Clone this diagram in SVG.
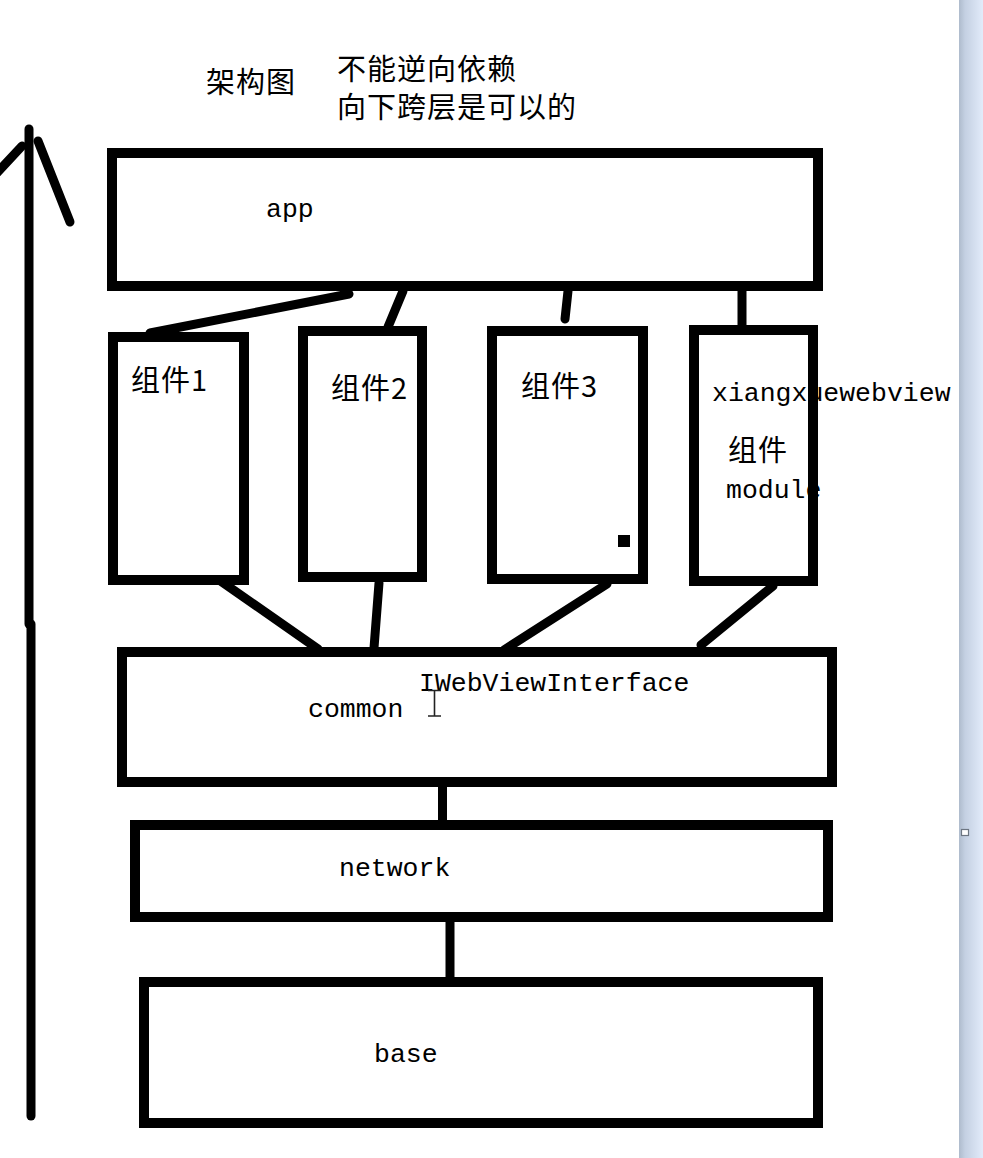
<svg xmlns="http://www.w3.org/2000/svg" width="983" height="1158" viewBox="0 0 983 1158">
  <defs>
    <linearGradient id="strip" x1="0" y1="0" x2="1" y2="0">
      <stop offset="0" stop-color="#aebbcc"/>
      <stop offset="0.25" stop-color="#c4d0e2"/>
      <stop offset="1" stop-color="#e2ebfa"/>
    </linearGradient>
  </defs>
  <style>
    .box { fill: #ffffff; stroke: #000000; stroke-width: 10; }
    .conn { stroke: #000000; stroke-width: 9; stroke-linecap: round; fill: none; }
    .cjk { font-family: "Noto Sans CJK SC", "Noto Sans", sans-serif; font-size: 29px; letter-spacing: 1px; fill: #000000; }
    .mono { font-family: "Liberation Mono", "DejaVu Sans Mono", monospace; font-size: 26.5px; fill: #000000; }
    .arrow { stroke: #000000; stroke-width: 9; stroke-linecap: round; fill: none; }
  </style>
  <rect x="0" y="0" width="983" height="1158" fill="#ffffff"/>
  <g id="window-edge">
    <rect x="959" y="0" width="24" height="1158" fill="url(#strip)"/>
    <rect x="961.5" y="829.5" width="7" height="6" fill="#ffffff" stroke="#6d7682" stroke-width="1.2"/>
  </g>

  <g id="title">
    <text class="cjk" x="206" y="93">架构图</text>
    <text class="cjk" x="337" y="80">不能逆向依赖</text>
    <text class="cjk" x="337" y="118">向下跨层是可以的</text>
  </g>

  <g id="arrow">
    <line class="arrow" x1="29" y1="129" x2="29" y2="624"/>
    <line class="arrow" x1="31" y1="624" x2="31" y2="1116"/>
    <line class="arrow" x1="22" y1="146" x2="-6" y2="176"/>
    <line class="arrow" x1="38" y1="141" x2="70" y2="222"/>
  </g>

  <g id="connectors">
    <line class="conn" x1="349" y1="294" x2="150" y2="333"/>
    <line class="conn" x1="403" y1="291" x2="388" y2="327"/>
    <line class="conn" x1="568" y1="291" x2="565" y2="319"/>
    <line class="conn" x1="742" y1="282" x2="742" y2="327" stroke-linecap="butt"/>
    <line class="conn" x1="212" y1="575" x2="318" y2="649" stroke-width="10"/>
    <line class="conn" x1="379" y1="583" x2="373" y2="661" stroke-width="10"/>
    <line class="conn" x1="607" y1="584" x2="504" y2="650" stroke-width="10"/>
    <line class="conn" x1="773" y1="586" x2="701" y2="645" stroke-width="10"/>
    <line class="conn" x1="442.5" y1="785" x2="442.5" y2="822" stroke-linecap="butt"/>
    <line class="conn" x1="450" y1="918" x2="450" y2="980" stroke-width="10" stroke-linecap="butt"/>
  </g>

  <g id="app">
    <rect class="box" x="112" y="153" width="706" height="133"/>
    <text class="mono" x="266" y="217">app</text>
  </g>

  <g id="comp1">
    <rect class="box" x="113" y="337" width="131" height="243"/>
    <text class="cjk" x="131" y="391">组件1</text>
  </g>

  <g id="comp2">
    <rect class="box" x="303" y="331" width="119" height="246"/>
    <text class="cjk" x="331" y="399">组件2</text>
  </g>

  <g id="comp3">
    <rect class="box" x="492" y="331" width="151" height="248"/>
    <text class="cjk" x="521" y="397">组件3</text>
    <rect x="618" y="535" width="12" height="12" fill="#000000"/>
  </g>

  <g id="xiangxuewebview">
    <rect x="694" y="330" width="119" height="251" fill="#ffffff"/>
    <text class="mono" x="712" y="401">xiangxuewebview</text>
    <text class="cjk" x="728" y="461">组件</text>
    <text class="mono" x="726" y="498">module</text>
    <rect x="694" y="330" width="119" height="251" fill="none" stroke="#000000" stroke-width="10"/>
  </g>

  <g id="common">
    <rect class="box" x="122" y="652" width="710" height="130"/>
    <text class="mono" x="308" y="717">common</text>
    <text class="mono" x="419" y="691">IWebViewInterface</text>
    <path d="M428 690.5 H441 M434.5 690.5 V716 M428 716 H441" stroke="#222222" stroke-width="1.6" fill="none"/>
  </g>

  <g id="network">
    <rect class="box" x="135" y="825" width="693" height="92"/>
    <text class="mono" x="339" y="876">network</text>
  </g>

  <g id="base">
    <rect class="box" x="144" y="982" width="674" height="141"/>
    <text class="mono" x="374" y="1062">base</text>
  </g>
</svg>
